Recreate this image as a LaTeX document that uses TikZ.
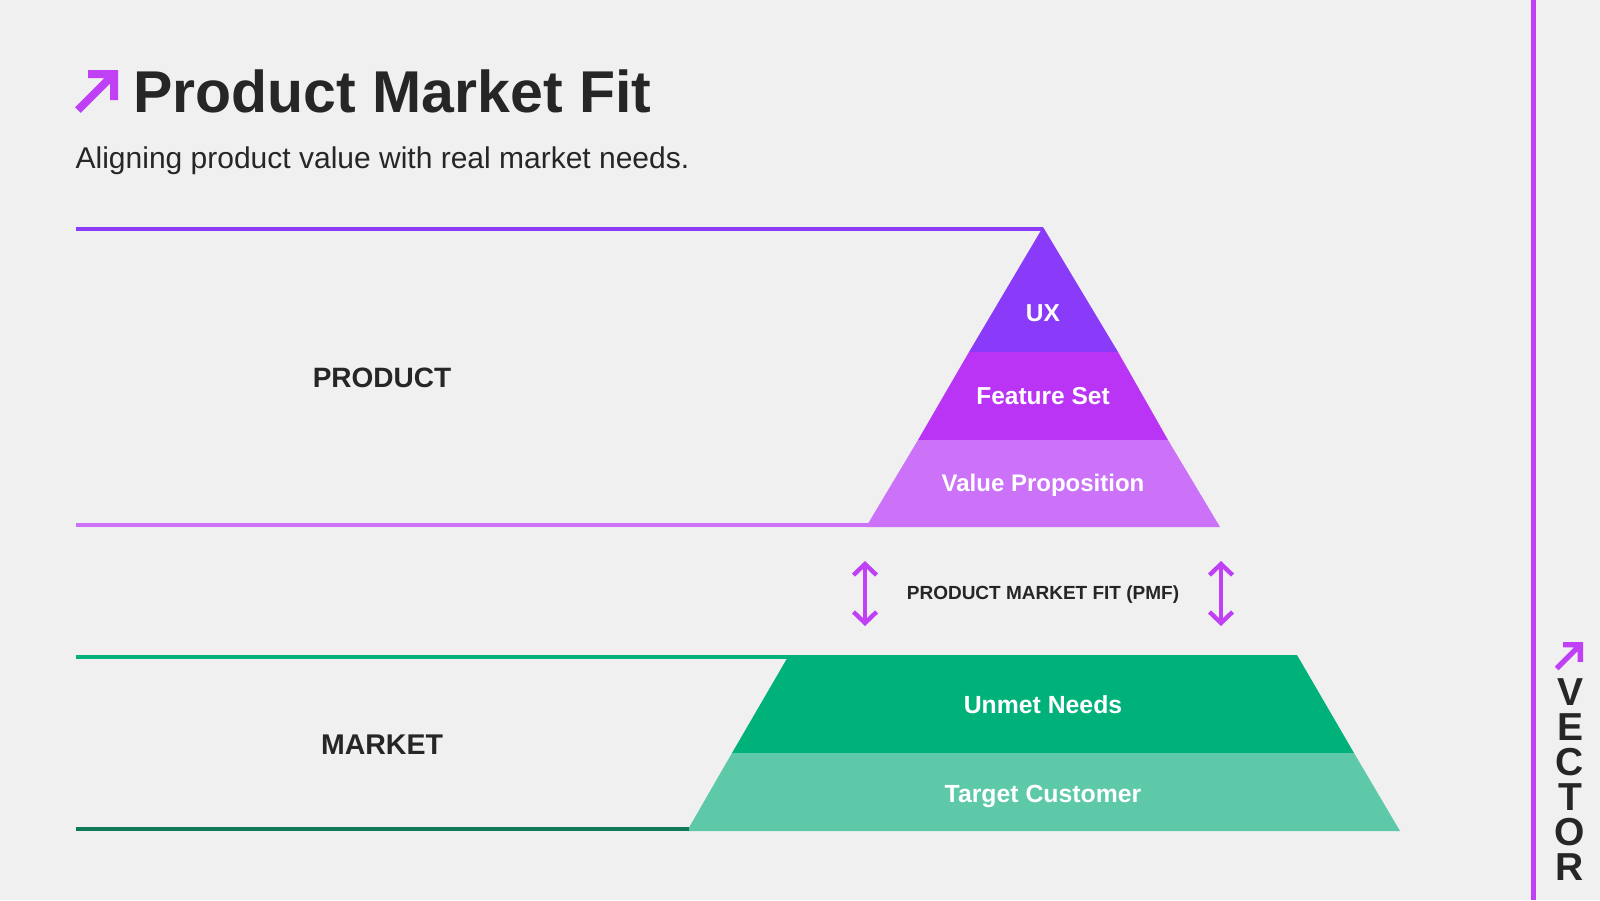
\documentclass[tikz,border=0pt]{standalone}
\usepackage{fontspec}
\setmainfont{Liberation Sans}
\usetikzlibrary{arrows.meta}

\definecolor{paper}{HTML}{F0F0F0}
\definecolor{ink}{HTML}{262626}
\definecolor{accent}{HTML}{C040F5}
\definecolor{uxcol}{HTML}{8A3AF9}
\definecolor{featcol}{HTML}{B934F5}
\definecolor{valcol}{HTML}{CB72F9}
\definecolor{needcol}{HTML}{00B27A}
\definecolor{custcol}{HTML}{5DC9A8}
\definecolor{darkgreen}{HTML}{0F7A5A}

\begin{document}
\begin{tikzpicture}[x=1pt,y=-1pt]
    \pgfmathsetmacro{\cx}{1043}	%pyramid axis
    \tikzset{
        txt/.style={inner sep=0,anchor=base,text=ink,font=\bfseries\fontsize{#1}{#1}\selectfont},
        onfill/.style={txt=#1,text=white},
        rule/.style={line width=4pt},
        updown/.style={accent,line width=4.4pt,{Straight Barb[length=11pt,width=23pt,line width=4.4pt]}-{Straight Barb[length=11pt,width=23pt,line width=4.4pt]}},
        vectorarrow/.pic={
            \fill[accent] (0,0) -- (-30,0) -- (-30,8) -- (-13.66,8) -- (-42.83,37.17) -- (-37.17,42.83)
                -- (-8,13.66) -- (-8,30) -- (0,30) -- cycle;}
    };
    \useasboundingbox[fill=paper] (0,0) rectangle (1600,900);

    % product pyramid
    \coordinate (apex) at (\cx,227);
    \coordinate (uxl) at (969,352);
    \coordinate (uxr) at (1118,352);
    \coordinate (featl) at (918,440);
    \coordinate (featr) at (1168,440);
    \coordinate (vall) at (866,527);
    \coordinate (valr) at (1220,527);
    \fill[uxcol] (apex) -- (uxr) -- (uxl) -- cycle;
    \fill[featcol] (uxl) -- (uxr) -- (featr) -- (featl) -- cycle;
    \fill[valcol] (featl) -- (featr) -- (valr) -- (vall) -- cycle;

    % market block
    \coordinate (needtl) at (789,655);
    \coordinate (needtr) at (1297,655);
    \coordinate (needbl) at (732,753);
    \coordinate (needbr) at (1354,753);
    \coordinate (custl) at (687,831);
    \coordinate (custr) at (1400,831);
    \fill[needcol] (needtl) -- (needtr) -- (needbr) -- (needbl) -- cycle;
    \fill[custcol] (needbl) -- (needbr) -- (custr) -- (custl) -- cycle;

    % rules
    \coordinate (ruleA) at (76,229);
    \coordinate (ruleB) at (76,525);
    \coordinate (ruleC) at (76,657);
    \coordinate (ruleD) at (76,829);
    \draw[rule,uxcol] (ruleA) -- (\cx,229);
    \draw[rule,valcol] (ruleB) -- (869,525);
    \draw[rule,needcol] (ruleC) -- (790,657);
    \draw[rule,darkgreen] (ruleD) -- (689,829);

    % sidebar
    \coordinate (bartop) at (1533.5,0);
    \coordinate (barend) at (1533.5,900);
    \draw[accent,line width=5pt] (bartop) -- (barend);

    % arrows either side of the gap
    \foreach \x/\n in {865/l,1221/r}{
        \coordinate (up\n) at (\x,561);
        \coordinate (dn\n) at (\x,626);
        \draw[updown] (up\n) -- (dn\n);
    }

    \pic at (118,70) {vectorarrow};
    \pic[scale=0.66] at (1583,642) {vectorarrow};

    % texts
    \node[txt=59] (title) at (392.5,112) {Product Market Fit};
    \node[txt=30,font=\fontsize{30}{30}\selectfont] (sub) at (382.5,168) {Aligning product value with real market needs.};
    \node[txt=28] (product) at (382,387) {PRODUCT};
    \node[txt=28.5] (market) at (382,754) {MARKET};
    \node[onfill=24.5] (ux) at (\cx,321) {UX};
    \node[onfill=24.5] (feature) at (\cx,404) {Feature Set};
    \node[onfill=24] (value) at (\cx,491) {Value Proposition};
    \node[txt=19] (pmf) at (\cx,599) {PRODUCT MARKET FIT (PMF)};
    \node[onfill=24.8] (needs) at (\cx,713) {Unmet Needs};
    \node[onfill=24.8] (customer) at (\cx,802) {Target Customer};
    \node[inner sep=0,anchor=south,text=ink,align=center,font=\bfseries\fontsize{39}{35}\selectfont] (brand) at (1570,881) {V\\E\\C\\T\\O\\R};
\end{tikzpicture}
\end{document}
